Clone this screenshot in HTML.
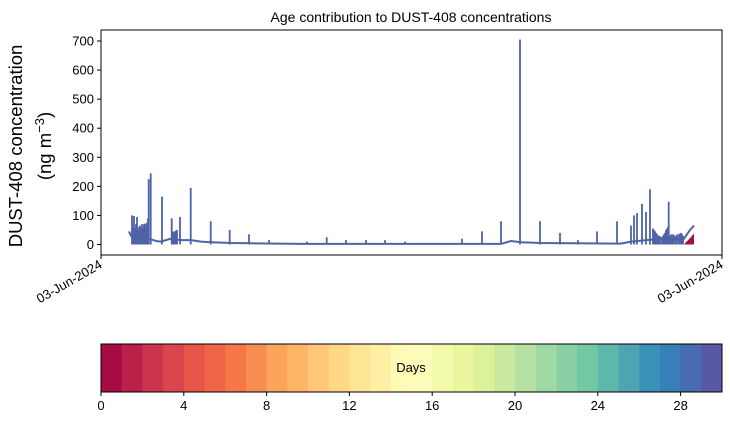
<!DOCTYPE html>
<html><head><meta charset="utf-8"><style>
body{margin:0;background:#fff;width:730px;height:425px;overflow:hidden}
svg text{font-family:"Liberation Sans",sans-serif;fill:#000}
</style></head><body>
<svg id="chart" width="730" height="425">
<text x="411" y="22" font-size="14" text-anchor="middle">Age contribution to DUST-408 concentrations</text>
<text transform="translate(22,146) rotate(-90)" font-size="18.5" text-anchor="middle">DUST-408 concentration</text>
<text transform="translate(51,146) rotate(-90)" font-size="18.5" text-anchor="middle">(ng m<tspan dy="-7" font-size="13">−3</tspan><tspan dy="7">)</tspan></text>
<g id="plot"></g>
<g id="cbar"></g>
</svg>
<script>
const baseTimes=[28,30,35,45,50,55,60,70,80,90,100,110,130,150,200,300,400,410,420,440,520,530,560,583,586,589,593];
const baseValues=[45,30,25,20,18,12,10,20,15,15,10,8,5,4,2,2,2,12,8,5,3,10,20,20,35,50,65];
const spikeTimes=[31,32,33,34,35,36,37,38,39,40,41,42,43,44,45,46,47,47.7,49.7,61,70.7,72,73,74,75,76,79,89.7,109.7,128.7,148,168,206,225.7,245,265,284,304,324,344,361,381,400,419,439,459,477,496,516,530,533,536,541,545,549,552,553,554,555,556,557,558,559,561,562,563,564,565,566,567,567.7,569,570,571,572,573,575,576,578,579,580,581,582];
const spikeValues=[100,60,98,55,70,95,50,60,65,55,70,55,70,72,60,75,90,225,245,165,90,45,40,45,48,50,95,195,80,50,35,15,10,25,15,15,15,10,5,5,20,45,80,705,80,40,15,45,80,65,100,108,140,112,190,55,50,45,40,35,30,30,28,25,30,35,40,50,55,60,147,30,35,28,35,32,30,35,35,38,40,35,30];
const freshTimes=[583,585,587,589,591,593];
const freshValues=[0,8,15,22,30,38];
const yTicks=[0,100,200,300,400,500,600,700];
const cbTicks=[0,4,8,12,16,20,24,28];
const NS='http://www.w3.org/2000/svg';
const X0=101,X1=722,Y0=30,Y1=255;
const xs=t=>X0+t*(X1-X0)/621;
const ys=v=>244.5-v*(244.5-41)/700;
function mk(tag,attrs,parent){const e=document.createElementNS(NS,tag);for(const k in attrs)e.setAttribute(k,attrs[k]);parent.appendChild(e);return e;}
const plot=document.getElementById('plot');
const BLUE='#4e62a8';
let d='M'+xs(freshTimes[0])+','+ys(0);
freshTimes.forEach((t,i)=>{d+=' L'+xs(t)+','+ys(freshValues[i]);});
d+=' L'+xs(freshTimes[freshTimes.length-1])+','+ys(0)+'Z';
const ff=mk('path',{d:d,fill:'#a50f45'},plot);


let p=baseTimes.map((t,i)=>(i?'L':'M')+xs(t).toFixed(1)+','+ys(baseValues[i]).toFixed(1)).join(' ');
const line=mk('path',{d:p,fill:'none',stroke:BLUE,'stroke-width':2},plot);


spikeTimes.forEach((t,i)=>{
  const x=xs(t);
  const r=mk('rect',{x:x-0.9,y:ys(spikeValues[i]),width:1.8,height:ys(0)-ys(spikeValues[i]),fill:BLUE},plot);
  
  
});
const fr=mk('rect',{x:X0,y:Y0,width:X1-X0,height:Y1-Y0,fill:'none',stroke:'#000','stroke-width':1},plot);


yTicks.forEach(v=>{
  const y=ys(v);
  const tk=mk('line',{x1:X0-4,x2:X0,y1:y,y2:y,stroke:'#000'},plot);
  
  
  const tx=mk('text',{x:X0-7,y:y+4.5,'font-size':13,'text-anchor':'end'},plot);
  tx.textContent=v;
  
  
});
[X0,X1].forEach(x=>{
  const tk=mk('line',{x1:x,x2:x,y1:Y1,y2:Y1+4,stroke:'#000'},plot);
  
  
  const tx=mk('text',{transform:`translate(${x+2},${Y1+12}) rotate(-30)`,'font-size':13,'text-anchor':'end'},plot);
  tx.textContent='03-Jun-2024';
  
  
});
const cb=document.getElementById('cbar');
const anchors=[[158,1,66],[213,62,79],[244,109,67],[253,174,97],[254,224,139],[255,255,191],[230,245,152],[171,221,164],[102,194,165],[50,136,189],[94,79,162]];
function spec(f){const s=f*10,i=Math.min(9,Math.floor(s)),r=s-i,a=anchors[i],b=anchors[i+1];return `rgb(${a.map((c,k)=>Math.round(c+(b[k]-c)*r)).join(',')})`;}
const CX0=101,CX1=722,CY0=344,CY1=392,N=30;
for(let i=0;i<N;i++){
  const r=mk('rect',{x:CX0+i*(CX1-CX0)/N,y:CY0,width:(CX1-CX0)/N+0.5,height:CY1-CY0,fill:spec((i+0.5)/N)},cb);
  
  
}
const cf=mk('rect',{x:CX0,y:CY0,width:CX1-CX0,height:CY1-CY0,fill:'none',stroke:'#000'},cb);


const cl=mk('text',{x:411,y:372,'font-size':13,'text-anchor':'middle'},cb);
cl.textContent='Days';


cbTicks.forEach(v=>{
  const x=CX0+v*(CX1-CX0)/30;
  const tk=mk('line',{x1:x,x2:x,y1:CY1,y2:CY1+4,stroke:'#000'},cb);
  
  
  const tx=mk('text',{x:x,y:CY1+18,'font-size':13,'text-anchor':'middle'},cb);
  tx.textContent=v;
  
  
});
</script>
</body></html>
